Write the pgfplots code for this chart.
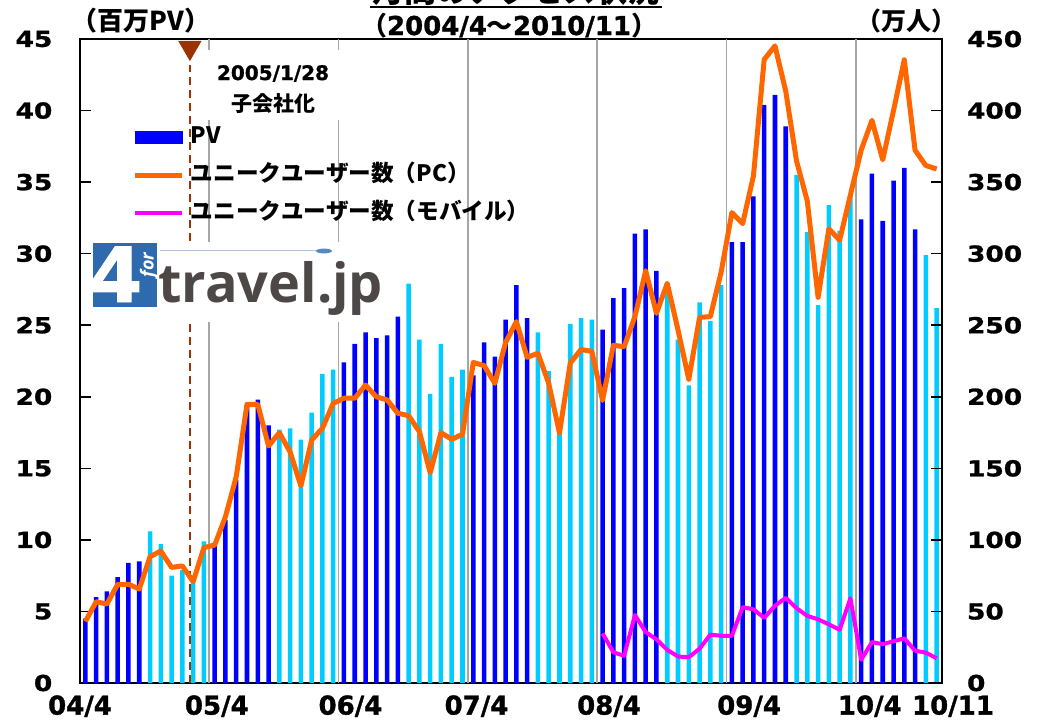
\documentclass[border=0pt]{standalone}
\usepackage{fontspec}
\setmainfont{DejaVu Sans}
\newfontfamily\jp{Noto Sans CJK JP}
\newfontfamily\numf{DejaVu Sans}[FakeBold=1.2]
\newfontfamily\numw{DejaVu Sans}[FakeStretch=1.2,FakeBold=1.2]
\newfontfamily\logof{Open Sans}
\usepackage{pgfplots}
\usepackage{pgfplotstable}
\pgfplotsset{compat=1.18}

\definecolor{pvDark}{HTML}{0000FF}
\definecolor{pvLight}{HTML}{00CCFF}
\definecolor{ucPC}{HTML}{FF6600}
\definecolor{ucMob}{HTML}{FF00FF}
\definecolor{gridGray}{HTML}{A6A6A6}
\definecolor{noteBrown}{HTML}{993300}
\definecolor{logoBlue}{HTML}{2E6AAE}
\definecolor{logoGray}{HTML}{4D4845}

% PV (million), month index 0 = 2004/4
\pgfplotstableread{
i pv
0 4.5
1 6.0
2 6.4
3 7.4
4 8.4
5 8.5
12 9.8
13 11.4
14 14.2
15 19.4
16 19.8
17 18.0
24 22.4
25 23.7
26 24.5
27 24.1
28 24.3
29 25.6
36 21.5
37 23.8
38 22.8
39 25.4
40 27.8
41 25.5
48 24.7
49 26.9
50 27.6
51 31.4
52 31.7
53 28.8
60 30.8
61 30.8
62 34.0
63 40.4
64 41.1
65 38.9
72 32.4
73 35.6
74 32.3
75 35.1
76 36.0
77 31.7
}\pvdark

\pgfplotstableread{
i pv
6 10.6
7 9.7
8 7.5
9 7.9
10 7.3
11 9.9
18 17.7
19 17.8
20 17.0
21 18.9
22 21.6
23 21.9
30 27.9
31 24.0
32 20.2
33 23.7
34 21.4
35 21.9
42 24.5
43 21.8
44 17.4
45 25.1
46 25.5
47 25.4
54 27.4
55 24.0
56 20.8
57 26.6
58 25.3
59 27.8
66 35.5
67 31.5
68 26.4
69 33.4
70 31.6
71 34.0
78 29.9
79 26.2
}\pvlight

% unique users PC (10k)
\pgfplotstableread{
i uu
0 43
1 56.8
2 55.2
3 69
4 69
5 65.7
6 88.3
7 92.2
8 80.8
9 81.8
10 70.8
11 94.6
12 96.4
13 116.2
14 144.2
15 194.7
16 194.7
17 165.6
18 174.9
19 161.5
20 137.7
21 169.8
22 178
23 195.4
24 199
25 199
26 208.2
27 200
28 197.8
29 188.5
30 186.8
31 175.6
32 147
33 174.9
34 170.3
35 173.8
36 224
37 221.8
38 209.4
39 238
40 252.5
41 227.6
42 230.4
43 209.4
44 174.7
45 223.6
46 233
47 231.8
48 197.5
49 236
50 235
51 256
52 288.1
53 258.3
54 279.3
55 246.7
56 212.2
57 255.5
58 256
59 287
60 328.7
61 321
62 354.3
63 435.7
64 445.2
65 413.5
66 364.8
67 336.7
68 269.5
69 317.4
70 309.4
71 341
72 372.4
73 393.2
74 365.6
75 400
76 435.5
77 372.3
78 361.6
79 359.2
}\uupc

% unique users mobile (10k)
\pgfplotstableread{
i uu
48 34.7
49 21.5
50 19
51 47.5
52 35.6
53 30.5
54 23.2
55 18.5
56 18
57 24
58 33.8
59 33
60 33
61 53
62 51.5
63 45.5
64 54
65 59.5
66 52.3
67 46.9
68 44.5
69 41
70 37.2
71 59.2
72 16.2
73 28.6
74 27.1
75 29.2
76 31.2
77 22.6
78 21.2
79 17.3
}\uumob

\pgfplotsset{
  base/.style={
    scale only axis, width=431pt, height=322pt,
    at={(0,0)}, anchor=south west,
    xmin=-0.5, xmax=79.5, ymin=0,
    clip=false,
    /pgf/number format/assume math mode=true,
    major tick length=5.5pt, tick align=inside,
    tick style={black, line width=0.8pt},
    axis line style={black, line width=0.8pt},
  },
}

\begin{document}
\begin{tikzpicture}
\useasboundingbox (-40pt,-18.5pt) rectangle (481.5pt,341.5pt);

\begin{axis}[
  base,
  ymax=45, ytick={0,5,...,45}, ytick pos=left,
  yticklabel style={font=\numw\bfseries\fontsize{11}{12}\selectfont, xshift=-10.3pt},
  xtick={-0.5,12.2,24.6,36.3,48.6,61.6,72.8,79.5},
  xticklabels={04/4,05/4,06/4,07/4,08/4,09/4,10/4,\hspace*{11pt}10/11},
  xticklabel style={font=\numf\bfseries\fontsize{13}{14}\selectfont, anchor=base, yshift=-15.8pt},
  xtick style={draw=none},
  extra x ticks={11.5,23.5,35.5,47.5,59.5,71.5},
  extra x tick labels={},
  extra x tick style={grid=major, major grid style={draw=gridGray, line width=0.9pt}},
]
\addplot[ybar, bar width=0.42, bar shift=0, fill=pvDark, draw=none] table[x=i,y=pv] {\pvdark};
\addplot[ybar, bar width=0.42, bar shift=0, fill=pvLight, draw=none] table[x=i,y=pv] {\pvlight};
\addplot[noteBrown, line width=1pt, dash pattern=on 4pt off 2.5pt] coordinates {(9.7,0) (9.7,43.2)};
\addplot[only marks, mark=triangle*, mark size=6.35pt,
  mark options={rotate=180, fill=noteBrown, draw=noteBrown}] coordinates {(9.7,44.4)};
\end{axis}

% logo
\fill[white] (6pt,180.5pt) rectangle (153pt,220.5pt);
\fill[logoBlue] (6.5pt,188pt) rectangle (38.5pt,220pt);
\node[white, font=\numf\bfseries\fontsize{38}{38}\selectfont, anchor=base] at (18pt,190.5pt) {4};
\node[white, font=\logof\itshape\bfseries\fontsize{9}{9}\selectfont, rotate=90] at (34.5pt,209pt) {for};
\draw[color=logoBlue!40, line width=0.5pt] (40pt,216.5pt) -- (120pt,216.5pt);
\fill[logoBlue!80] (122pt,216pt) ellipse (4pt and 1.2pt);
\node[logoGray, font=\logof\bfseries\fontsize{27}{27}\selectfont, anchor=base west, inner sep=0pt] at (39pt,190.5pt) {travel.jp};

% note box
\fill[white] (60pt,281.5pt) rectangle (132.5pt,316.5pt);
\node[font=\numf\bfseries\fontsize{10}{12}\selectfont, anchor=base] at (96.5pt,301.5pt) {2005/1/28};
\node[font=\jp\bfseries\fontsize{10.5}{12}\selectfont, anchor=base] at (96.5pt,286pt) {子会社化};

% titles and units
\node[font=\jp\bfseries\fontsize{16}{16}\selectfont, anchor=base] at (218pt,340.5pt) {月間のアクセス状況};
\draw[line width=0.8pt] (145pt,338pt) -- (291pt,338pt);
\node[font=\bfseries\fontsize{13}{15}\selectfont, anchor=base] at (214.5pt,324pt)
  {{\jp （}{\numf 2004/4}{\jp ～}{\numf 2010/11}{\jp ）}};
\node[font=\jp\bfseries\fontsize{13}{15}\selectfont, anchor=base] at (30.5pt,326.5pt) {（百万PV）};
\node[font=\jp\bfseries\fontsize{12.5}{14}\selectfont, anchor=base] at (413pt,326.5pt) {（万人）};

\begin{axis}[
  base,
  ymax=450, ytick={0,50,...,450},
  axis y line*=right, axis x line=none,
  yticklabel style={font=\numw\bfseries\fontsize{11}{12}\selectfont, xshift=9pt},
  legend style={at={(0.061,0.866)}, anchor=north west, draw=none, fill=none,
    font=\jp\bfseries\fontsize{11.3}{13}\selectfont, inner sep=0pt,
    nodes={inner sep=0pt, text height=9pt, text depth=2.5pt},
    row sep=7.5pt, cells={anchor=west},
    /tikz/every odd column/.append style={column sep=3pt}},
  legend image code/.code={\draw[#1] (0pt,0pt) -- (23.5pt,0pt);},
]
\addlegendimage{legend image code/.code={\fill[pvDark] (0pt,-3pt) rectangle (23.5pt,3pt);}}
\addlegendentry{PV}
\addplot[ucPC, line width=2.5pt, line join=round] table[x=i,y=uu] {\uupc};
\addlegendentry{ユニークユーザー数（PC）}
\addplot[ucMob, line width=2pt, line join=round] table[x=i,y=uu] {\uumob};
\addlegendentry{ユニークユーザー数（モバイル）}
\end{axis}
\end{tikzpicture}
\end{document}
